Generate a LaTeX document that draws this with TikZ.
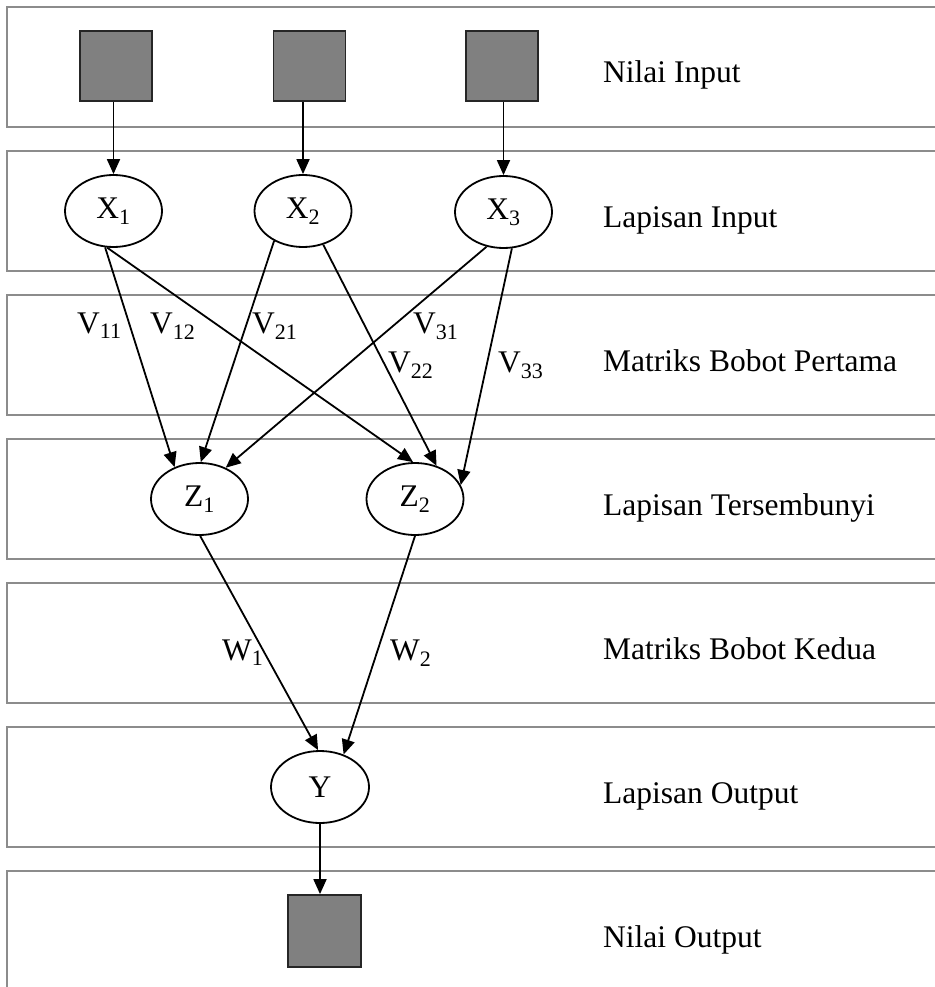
\documentclass[tikz,border=0pt]{standalone}
\usepackage{fontspec}
\setmainfont{Liberation Serif}
\usepackage{tikz}
\usetikzlibrary{shapes,arrows.meta,positioning}
\tikzstyle{layerbox} = [draw, rectangle, line width=2pt, color=black!45,
    minimum width=953pt, minimum height=120pt]
\tikzstyle{layertext} = [anchor=base west, inner sep=0pt, text=black,
    font=\fontsize{31.5}{36}\selectfont]
\tikzstyle{neuron} = [draw, ellipse, line width=1.8pt, minimum width=97pt,
    minimum height=72pt, inner sep=0pt, font=\fontsize{31.5}{36}\selectfont]
\tikzstyle{valbox} = [draw=black!85, fill=black!50, line width=1.8pt,
    minimum width=72pt, minimum height=70pt]
\tikzstyle{weightlbl} = [anchor=base west, inner sep=0pt, font=\fontsize{31.5}{36}\selectfont]
\tikzstyle{link} = [draw, line width=1.8pt, ->]

\begin{document}
\begin{tikzpicture}[>={Triangle[length=15pt,width=13pt]}]
    \useasboundingbox (0pt,0pt) rectangle (934pt,-987pt);
    % layer rows
    \node [layerbox] (row1) at (483.5pt,-67pt) {};
    \node [layerbox] (row2) at (483.5pt,-211pt) {};
    \node [layerbox] (row3) at (483.5pt,-355pt) {};
    \node [layerbox] (row4) at (483.5pt,-499pt) {};
    \node [layerbox] (row5) at (483.5pt,-643pt) {};
    \node [layerbox] (row6) at (483.5pt,-787pt) {};
    \node [layerbox] (row7) at (483.5pt,-931pt) {};

    \node [layertext] (t1) at (603pt,-83pt) {Nilai Input};
    \node [layertext] (t2) at (603pt,-227pt) {Lapisan Input};
    \node [layertext] (t3) at (603pt,-371pt) {Matriks Bobot Pertama};
    \node [layertext] (t4) at (603pt,-515pt) {Lapisan Tersembunyi};
    \node [layertext] (t5) at (603pt,-659pt) {Matriks Bobot Kedua};
    \node [layertext] (t6) at (603pt,-803pt) {Lapisan Output};
    \node [layertext] (t7) at (603pt,-947pt) {Nilai Output};

    \node [valbox] (in1) at (116pt,-66pt) {};
    \node [valbox, right of=in1, node distance=193.5pt] (in2) {};
    \node [valbox, right of=in2, node distance=192.5pt] (in3) {};

    \node [neuron] (x1) at (113.5pt,-211pt) {X\textsubscript{1}};
    \node [neuron, right of=x1, node distance=189.5pt] (x2) {X\textsubscript{2}};
    \node [neuron, right of=x2, node distance=200.5pt, yshift=-1pt] (x3) {X\textsubscript{3}};

    \node [neuron] (z1) at (199.5pt,-499pt) {Z\textsubscript{1}};
    \node [neuron, right of=z1, node distance=215.5pt] (z2) {Z\textsubscript{2}};

    \node [neuron, minimum width=98pt] (yo) at (320pt,-787pt) {Y};
    \node [valbox, below of=yo, node distance=144pt, xshift=4.5pt,
            minimum width=73pt, minimum height=72pt] (out) {};

    \draw [link] (in1.south -| x1.north) -- (x1.north);
    \draw [link] (in2.south -| x2.north) -- (x2.north);
    \draw [link] (in3.south -| x3.north) -- (x3.north);

    \draw [link] (x1.-103) -- (z1.128);
    \draw [link] (x1.-100) -- (z2.93);
    \draw [link] (x2.-134) -- (z1.88);
    \draw [link] (x2.-59) -- (z2.57);
    \draw [link] (x3.-116) -- (z1.50);
    \draw [link] (x3.-77) -- (z2.17);

    \node [weightlbl] (v11) at (77pt,-333pt) {V\textsubscript{11}};
    \node [weightlbl] (v12) at (150pt,-333pt) {V\textsubscript{12}};
    \node [weightlbl] (v21) at (252pt,-333pt) {V\textsubscript{21}};
    \node [weightlbl] (v31) at (413pt,-333pt) {V\textsubscript{31}};
    \node [weightlbl] (v22) at (388pt,-372pt) {V\textsubscript{22}};
    \node [weightlbl] (v33) at (498pt,-372pt) {V\textsubscript{33}};

    \draw [link] (z1.-89) -- (yo.93);
    \draw [link] (z2.-90) -- (yo.54);
    \node [weightlbl] (w1) at (222pt,-660pt) {W\textsubscript{1}};
    \node [weightlbl] (w2) at (390pt,-660pt) {W\textsubscript{2}};

    \draw [link] (yo.south) -- (yo.south |- out.north);
\end{tikzpicture}
\end{document}
